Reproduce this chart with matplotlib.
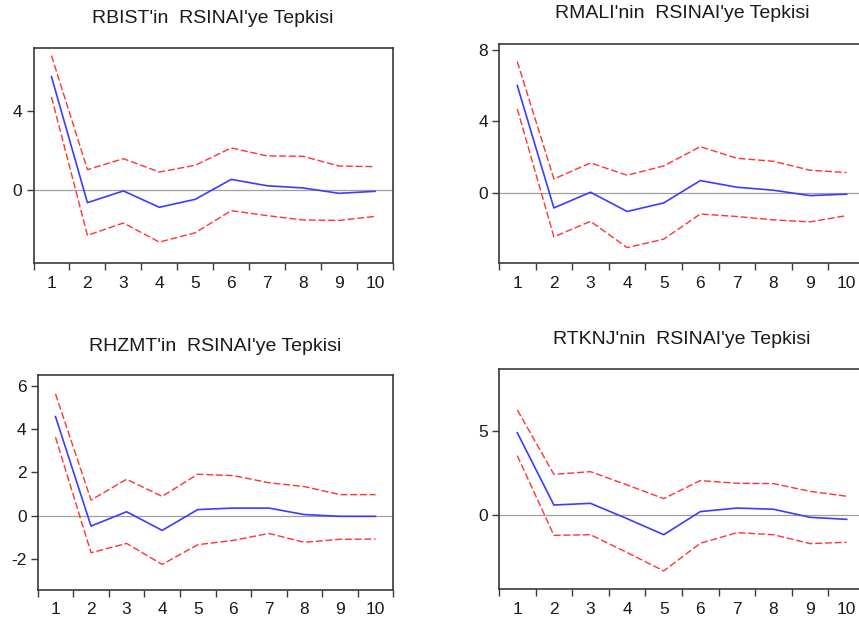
import matplotlib
matplotlib.use("Agg")
import matplotlib.pyplot as plt
import numpy as np

plt.rcParams['font.family'] = ['Liberation Sans', 'DejaVu Sans']
plt.rcParams['axes.unicode_minus'] = False

periods = [1, 2, 3, 4, 5, 6, 7, 8, 9, 10]
period_labels = ["1", "2", "3", "4", "5", "6", "7", "8", "9", "10"]

titles = ["RBIST'in  RSINAI'ye Tepkisi", "RMALI'nin  RSINAI'ye Tepkisi",
          "RHZMT'in  RSINAI'ye Tepkisi", "RTKNJ'nin  RSINAI'ye Tepkisi"]

rbist_resp = [5.71, -0.62, -0.03, -0.85, -0.45, 0.55, 0.23, 0.12, -0.15, -0.05]
rbist_upper = [6.77, 1.04, 1.59, 0.92, 1.26, 2.13, 1.73, 1.71, 1.22, 1.19]
rbist_lower = [4.69, -2.26, -1.64, -2.60, -2.13, -1.02, -1.27, -1.49, -1.51, -1.31]

rmali_resp = [6.01, -0.84, 0.04, -1.04, -0.56, 0.69, 0.32, 0.15, -0.15, -0.07]
rmali_upper = [7.35, 0.78, 1.68, 0.99, 1.51, 2.59, 1.94, 1.77, 1.27, 1.14]
rmali_lower = [4.70, -2.46, -1.59, -3.06, -2.59, -1.18, -1.32, -1.51, -1.62, -1.27]

rhzmt_resp = [4.57, -0.48, 0.18, -0.68, 0.28, 0.35, 0.35, 0.05, -0.03, -0.03]
rhzmt_upper = [5.62, 0.72, 1.68, 0.89, 1.91, 1.85, 1.52, 1.34, 0.97, 0.97]
rhzmt_lower = [3.62, -1.71, -1.28, -2.25, -1.34, -1.14, -0.82, -1.23, -1.09, -1.08]

rtknj_resp = [4.90, 0.61, 0.71, -0.20, -1.15, 0.22, 0.43, 0.36, -0.12, -0.24]
rtknj_upper = [6.25, 2.43, 2.59, 1.80, 0.99, 2.06, 1.90, 1.88, 1.42, 1.13]
rtknj_lower = [3.54, -1.19, -1.15, -2.21, -3.30, -1.66, -1.03, -1.15, -1.68, -1.60]

yticks_list = [[0, 4], [0, 4, 8], [-2, 0, 2, 4, 6], [0, 5]]
ylims = [(-3.65, 7.15), (-3.94, 8.32), (-3.43, 6.49), (-4.39, 8.68)]

W, H = 859, 624
fig = plt.figure(figsize=(W / 100, H / 100), dpi=100)

# axes boxes in pixels: left, right, top, bottom
boxes = [(33.5, 393, 48, 263), (499, 865, 44.3, 263.3),
         (37.7, 393.3, 375, 590), (499, 865, 369, 589.3)]
title_base = [22.7, 18.3, 350.7, 344]

data = [(rbist_resp, rbist_upper, rbist_lower),
        (rmali_resp, rmali_upper, rmali_lower),
        (rhzmt_resp, rhzmt_upper, rhzmt_lower),
        (rtknj_resp, rtknj_upper, rtknj_lower)]

frame_col = '#3a3a3a'
for i, (l, r, t, b) in enumerate(boxes):
    ax = fig.add_axes([l / W, 1 - b / H, (r - l) / W, (b - t) / H])
    resp, up, lo = data[i]
    ax.axhline(0, color='#a0a0a0', lw=0.9, zorder=1)
    ax.plot(periods, up, color='#ff3333', lw=1.0, ls=(0, (5, 2)), zorder=2)
    ax.plot(periods, lo, color='#ff3333', lw=1.0, ls=(0, (5, 2)), zorder=2)
    ax.plot(periods, resp, color='#3c3cff', lw=1.2, zorder=3)
    ax.set_xlim(0.5, 10.5)
    ax.set_ylim(*ylims[i])
    ax.set_xticks(np.arange(0.5, 11, 1))
    ax.set_xticklabels([])
    ax.set_xticks(periods, minor=True)
    ax.set_xticklabels(period_labels, minor=True)
    ax.tick_params(axis='x', which='major', direction='out', length=5, color=frame_col, width=1)
    ax.tick_params(axis='x', which='minor', length=0, pad=9, labelsize=12.5, labelcolor='#1a1a1a')
    ax.set_yticks(yticks_list[i])
    ax.tick_params(axis='y', direction='out', length=5, color=frame_col, width=1, pad=3,
                   labelsize=12.5, labelcolor='#1a1a1a')
    for s in ax.spines.values():
        s.set_color(frame_col)
        s.set_linewidth(1.2)
    fig.text(((l + r) / 2) / W, 1 - title_base[i] / H, titles[i], ha='center', va='baseline',
             fontsize=14, color='#1a1a1a')

fig.savefig('out.png', dpi=100)
